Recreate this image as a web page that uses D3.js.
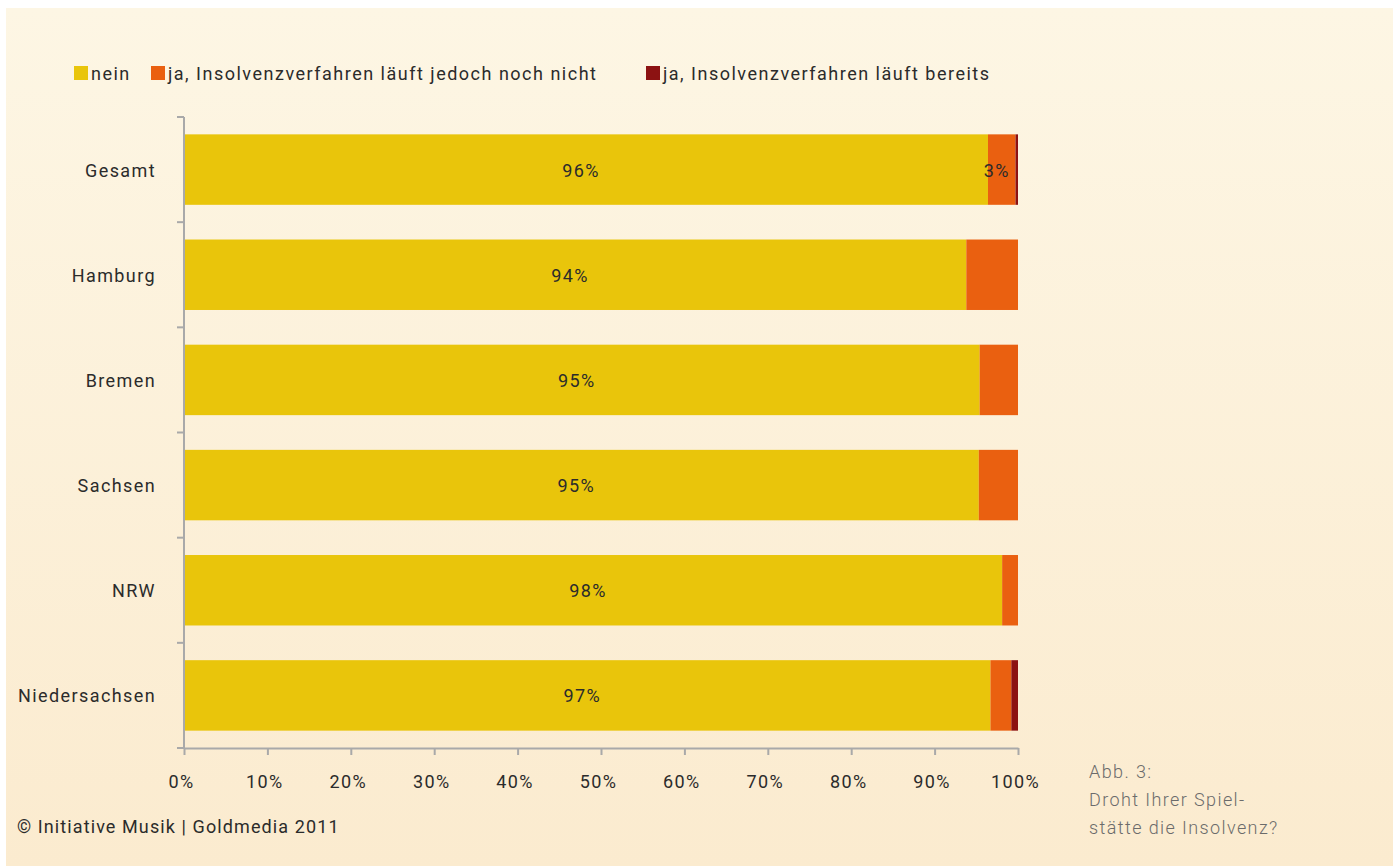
<!DOCTYPE html>
<html>
<head>
<meta charset="utf-8">
<script src="https://cdn.jsdelivr.net/npm/d3@7"></script>
<style>
  body { margin: 0; background: #fff; }
  svg { display: block; }
  text { font-family: Roboto, "DejaVu Sans", sans-serif; fill: #2b2b2b; font-size: 18px; letter-spacing: 1.4px; }
</style>
</head>
<body>
<svg id="chart" width="1393" height="866"></svg>
<script>
var categories = ["Gesamt", "Hamburg", "Bremen", "Sachsen", "NRW", "Niedersachsen"];
var seriesNames = ["nein", "ja, Insolvenzverfahren läuft jedoch noch nicht", "ja, Insolvenzverfahren läuft bereits"];
var nein = [96.4, 93.8, 95.4, 95.3, 98.1, 96.7];
var jaNochNicht = [3.3, 6.2, 4.6, 4.7, 1.9, 2.5];
var jaBereits = [0.3, 0, 0, 0, 0, 0.8];
var barLabels = [["96%", "3%"], ["94%"], ["95%"], ["95%"], ["98%"], ["97%"]];
var xTicks = [0, 10, 20, 30, 40, 50, 60, 70, 80, 90, 100];

var svg = d3.select("#chart");
var colors = ["#e9c50b", "#ea6010", "#8c1212"];

// background
var defs = svg.append("defs");
var grad = defs.append("linearGradient").attr("id", "bg").attr("x1", 0).attr("y1", 0).attr("x2", 0).attr("y2", 1);
grad.append("stop").attr("offset", "0%").attr("stop-color", "#fdf6e4");
grad.append("stop").attr("offset", "100%").attr("stop-color", "#fbebcf");
svg.append("rect").attr("x", 6).attr("y", 8).attr("width", 1387).attr("height", 858).attr("fill", "url(#bg)");

var x = d3.scaleLinear().domain([0, 100]).range([184, 1018]);
var y = d3.scaleBand().domain(categories).range([117, 748]).paddingInner(0.33).paddingOuter(0.165);

var rows = categories.map(function (c, i) {
    return { cat: c, nein: nein[i], a: jaNochNicht[i], b: jaBereits[i] };
});
var stack = d3.stack().keys(["nein", "a", "b"])(rows);

svg.append("g").selectAll("g")
    .data(stack)
    .enter().append("g")
    .attr("fill", function (d, i) { return colors[i]; })
    .selectAll("rect")
    .data(function (d) { return d; })
    .enter().append("rect")
    .attr("x", function (d) { return x(d[0]); })
    .attr("width", function (d) { return x(d[1]) - x(d[0]); })
    .attr("y", function (d) { return y(d.data.cat); })
    .attr("height", y.bandwidth());

// value labels
categories.forEach(function (c, i) {
    barLabels[i].forEach(function (lab, k) {
        var s = stack[k][i];
        svg.append("text")
            .attr("x", (x(s[0]) + x(s[1])) / 2 - 5)
            .attr("y", y(c) + y.bandwidth() / 2 + 7)
            .attr("text-anchor", "middle")
            .text(lab);
    });
});

// y axis line with ticks at band boundaries
var axisColor = "#a9a9a9";
svg.append("line").attr("x1", 184).attr("x2", 184).attr("y1", 117).attr("y2", 748)
    .attr("stroke", axisColor).attr("stroke-width", 2);
d3.range(categories.length + 1).forEach(function (i) {
    var yy = 117 + i * (631 / categories.length);
    svg.append("line").attr("x1", 177).attr("x2", 184).attr("y1", yy).attr("y2", yy)
        .attr("stroke", axisColor).attr("stroke-width", 2);
});
svg.append("g").selectAll("text")
    .data(categories)
    .enter().append("text")
    .attr("x", 156)
    .attr("y", function (d) { return y(d) + y.bandwidth() / 2 + 7; })
    .attr("text-anchor", "end")
    .text(function (d) { return d; });

// x axis
var xAxis = svg.append("g").attr("transform", "translate(0,748)")
    .call(d3.axisBottom(x).tickValues(xTicks).tickSize(7).tickSizeOuter(0)
        .tickFormat(function (d) { return d + "%"; }));
xAxis.select(".domain").attr("stroke", axisColor).attr("stroke-width", 2);
xAxis.selectAll(".tick line").attr("stroke", axisColor).attr("stroke-width", 2);
xAxis.selectAll(".tick text").attr("y", 27).attr("dx", -3)
    .style("font-size", "18px").style("font-family", "Roboto, sans-serif").attr("fill", "#2b2b2b");

// legend
var legendX = [74, 151, 646];
seriesNames.forEach(function (n, i) {
    svg.append("rect").attr("x", legendX[i]).attr("y", 66).attr("width", 14).attr("height", 14)
        .attr("fill", colors[i]);
    svg.append("text").attr("x", legendX[i] + 17).attr("y", 80).text(n)
        .style("letter-spacing", "1.5px");
});

// footer
svg.append("text").attr("x", 17).attr("y", 833)
    .style("letter-spacing", "1.1px")
    .text("© Initiative Musik | Goldmedia 2011");
var caption = ["Abb. 3:", "Droht Ihrer Spiel-", "stätte die Insolvenz?"];
caption.forEach(function (t, i) {
    svg.append("text").attr("x", 1089).attr("y", 778 + i * 28)
        .style("fill", "#6b6b6b").style("font-weight", 300)
        .text(t);
});
</script>
</body>
</html>
